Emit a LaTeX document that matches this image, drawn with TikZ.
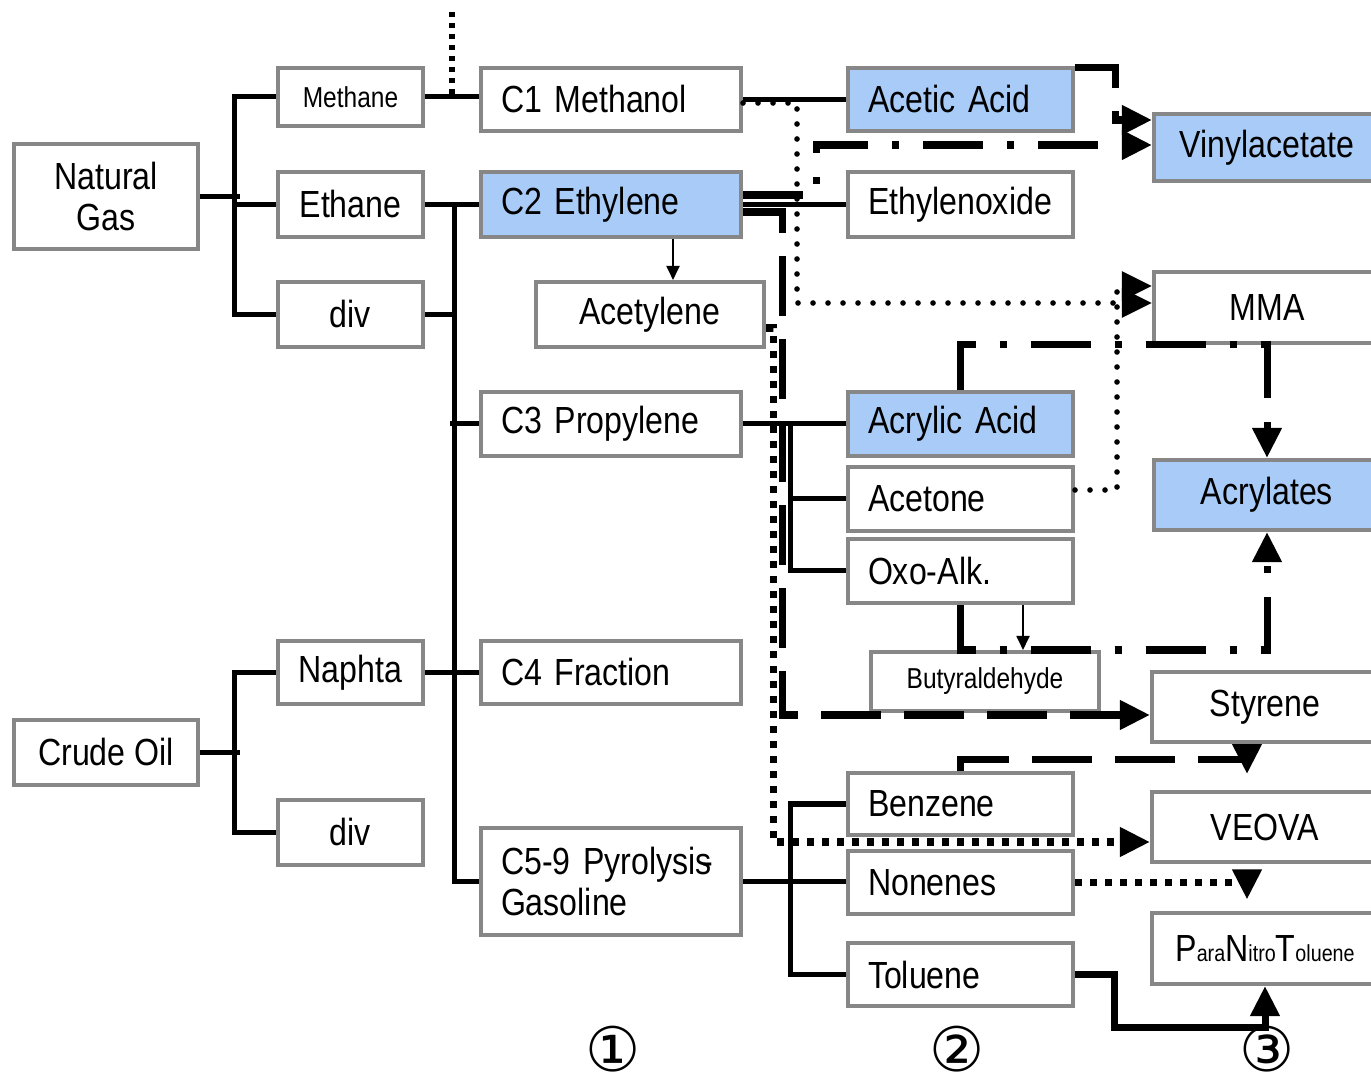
\documentclass[tikz,border=0pt]{standalone}
\usepackage{fontspec}
\setmainfont{Liberation Sans}[FakeStretch=0.85]
\newfontfamily\circfont{DejaVu Sans}
\usetikzlibrary{arrows.meta}
\definecolor{boxgray}{RGB}{135,135,135}
\definecolor{hiblue}{RGB}{168,203,248}

\begin{document}
\begin{tikzpicture}[
    box/.style={draw=boxgray, line width=2.3pt, fill=white, inner sep=0pt,
                minimum height=1.3cm, align=center, font=\fontsize{21.5}{23.3}\selectfont},
    lbox/.style={box, align=left, inner xsep=0.4cm, text width=#1},
    lbox/.default=4.4cm,
    smalltxt/.style={font=\fontsize{16.4}{18}\selectfont},
    hi/.style={fill=hiblue},
    circnum/.style={font=\circfont\fontsize{35}{35}\selectfont, inner sep=0pt},
    conn/.style={line width=2.85pt},
    dashline/.style={line width=4pt, dash pattern=on 1.2cm off 0.46cm},
    dashdotline/.style={line width=4pt, dash pattern=on 1.2cm off 0.48cm on 0.14cm off 0.48cm},
    rounddots/.style={line width=3.2pt, line cap=round, dash pattern=on 0pt off 0.3cm},
    sqdots/.style={line width=4pt, dash pattern=on 0.14cm off 0.16cm},
    bigarr/.style={-{Triangle[length=0.6cm, width=0.56cm]}},
    thinarr/.style={line width=1.1pt, -{Triangle[length=0.28cm, width=0.26cm]}},
  ]
  \useasboundingbox (0,0) rectangle (27.42,21.62);
  \clip (0,0) rectangle (27.42,21.62);

  % raw materials
  \node[box, minimum width=3.68cm, minimum height=2.1cm] (ngas) at (2.12,17.69) {Natural\\Gas};
  \node[box, minimum width=3.68cm] (crude) at (2.12,6.57) {Crude Oil};
  \node[box, smalltxt, minimum width=2.9cm, minimum height=1.16cm] (methane) at (7.01,19.68) {Methane};
  \node[box, minimum width=2.9cm] (ethane) at (7.01,17.53) {Ethane};
  \node[box, minimum width=2.9cm] (div1) at (7.01,15.33) {div};
  \node[box, minimum width=2.9cm, minimum height=1.26cm] (naphta) at (7.01,8.17) {Naphta};
  \node[box, minimum width=2.9cm] (div2) at (7.01,4.97) {div};

  % stage 1
  \node[lbox, minimum height=1.26cm] (methanol) at (12.22,19.63) {C1 Methanol};
  \node[lbox, hi] (ethylene) at (12.22,17.53) {C2 Ethylene};
  \node[box, minimum width=4.56cm] (acetylene) at (13.00,15.33) {Acetylene};
  \node[lbox, minimum height=1.28cm] (propylene) at (12.22,13.14) {C3 Propylene};
  \node[lbox, minimum height=1.26cm] (cfour) at (12.22,8.17) {C4 Fraction};
  \node[lbox, minimum height=2.14cm] (pyro) at (12.22,3.99) {C5-9 Pyrolysis\kern-0.25em-\\Gasoline};

  % stage 2
  \node[lbox=3.7cm, hi, minimum height=1.26cm] (acetic) at (19.21,19.63) {Acetic Acid};
  \node[lbox=3.7cm] (oxide) at (19.21,17.53) {Ethylenoxide};
  \node[lbox=3.7cm, hi, minimum height=1.28cm] (acrylic) at (19.21,13.14) {Acrylic Acid};
  \node[lbox=3.7cm, minimum height=1.28cm] (acetone) at (19.21,11.64) {Acetone};
  \node[lbox=3.7cm, minimum height=1.28cm] (oxo) at (19.21,10.20) {Oxo-Alk.};
  \node[box, smalltxt, minimum width=4.56cm, minimum height=1.18cm] (butyr) at (19.70,7.99) {Butyraldehyde};
  \node[lbox=3.7cm, minimum height=1.24cm] (benzene) at (19.21,5.54) {Benzene};
  \node[lbox=3.7cm, minimum height=1.26cm] (nonenes) at (19.21,3.97) {Nonenes};
  \node[lbox=3.7cm, minimum height=1.26cm] (toluene) at (19.21,2.13) {Toluene};

  % stage 3
  \node[box, hi, minimum width=4.52cm, minimum height=1.34cm] (vinyl) at (25.34,18.67) {Vinylacetate};
  \node[box, minimum width=4.52cm, minimum height=1.42cm] (mma) at (25.34,15.47) {MMA};
  \node[box, hi, minimum width=4.52cm, minimum height=1.4cm] (acrylates) at (25.34,11.72) {Acrylates};
  \node[box, minimum width=4.52cm, minimum height=1.4cm] (styrene) at (25.30,7.48) {Styrene};
  \node[box, minimum width=4.52cm, minimum height=1.4cm] (veova) at (25.30,5.08) {VEOVA};
  \node[box, minimum width=4.52cm, minimum height=1.42cm] (pnt) at (25.30,2.65)
    {P{\fontsize{13.2}{14}\selectfont ara}N{\fontsize{13.2}{14}\selectfont itro}T{\fontsize{13.2}{14}\selectfont oluene}};

  \node[circnum] (num1) at (12.26,0.64) {①};
  \node[circnum] (num2) at (19.14,0.64) {②};
  \node[circnum] (num3) at (25.34,0.64) {③};

  % feedstock tree
  \draw[conn] (ngas.east) -- ++(0.8,0);
  \draw[conn] (methane.west) -- ++(-0.82,0) |- (div1.west);
  \draw[conn] (ethane.west) -- ++(-0.82,0);
  \draw[conn] (crude.east) -- ++(0.8,0);
  \draw[conn] (naphta.west) -- ++(-0.82,0) |- (div2.west);
  \coordinate (feed) at (9.04,21.38);
  \draw[line width=3.2pt, dash pattern=on 0.1cm off 0.12cm] (feed) -- (feed |- methane.east);
  \draw[conn] (methane.east) -- (methane.east -| methanol.west);
  \draw[conn] (ethane.east) -- (ethylene.west);
  \draw[conn] (ethane.east) ++(0.58,0) |- (pyro.west);
  \draw[conn] (div1.east) -- ++(0.58,0);
  \draw[conn] (propylene.west) -- ++(-0.58,0);
  \draw[conn] (naphta.east) -- (cfour.west);

  % products
  \draw[conn] (methanol.east) -- (acetic.west);
  \draw[conn] (ethylene.east) -- (oxide.west);
  \draw[conn] (propylene.east) -- (acrylic.west);
  \draw[conn] (acrylic.west) ++(-1.1,0) |- (oxo.west);
  \draw[conn] (acetone.west) -- ++(-1.1,0);
  \draw[conn] (pyro.east) -- (pyro.east -| nonenes.west);
  \draw[conn] (benzene.west) -- ++(-1.1,0) |- (toluene.west);
  \draw[thinarr] ([xshift=1.24cm]ethylene.south) -- ([xshift=1.24cm]ethylene.south |- acetylene.north);
  \draw[thinarr] ([xshift=1.25cm]oxo.south) -- ([xshift=1.25cm]oxo.south |- butyr.north);

  % routes to stage 3
  \draw[dashline, bigarr] ([yshift=-0.04cm]acetic.north east) -- ++(0.8,0) |- ([yshift=0.55cm]vinyl.west);
  \draw[dashdotline, bigarr] ([yshift=0.19cm]ethylene.east) -- ++(1.46,0) |- ([yshift=0.05cm]vinyl.west);
  \draw[rounddots, bigarr] ([yshift=-0.07cm]methanol.east) -- ++(1.08,0) |- ([yshift=0.09cm]mma.west);
  \draw[rounddots, bigarr] ([yshift=0.18cm]acetone.east) -- ++(0.84,0) |- ([yshift=0.43cm]mma.west);
  \draw[dashdotline, bigarr] (acrylic.north) -- ++(0,0.9) -| (acrylates.north);
  \draw[dashdotline, bigarr] (oxo.south) -- ++(0,-0.9) -| (acrylates.south);
  \draw[dashline, bigarr] ([yshift=-0.15cm]ethylene.east) -- ++(0.78,0) |- ([yshift=-0.16cm]styrene.west);
  \draw[sqdots, bigarr] ([yshift=-0.27cm]acetylene.east) -- ++(0.14,0) |- ([yshift=-0.3cm]veova.west);
  \coordinate (styin) at ([xshift=-0.36cm,yshift=-0.3cm]styrene.south);
  \draw[dashline, bigarr] (benzene.north) |- (styin) -- ++(0,-0.3);
  \coordinate (veovain) at ([xshift=-0.36cm]veova.south);
  \draw[sqdots, bigarr] (nonenes.east) -- (nonenes.east -| veovain) -- ++(0,-0.34);
  \draw[line width=4pt, bigarr] (toluene.east) -- ++(0.78,0) -- ++(0,-1.06) -| (pnt.south);
\end{tikzpicture}
\end{document}
